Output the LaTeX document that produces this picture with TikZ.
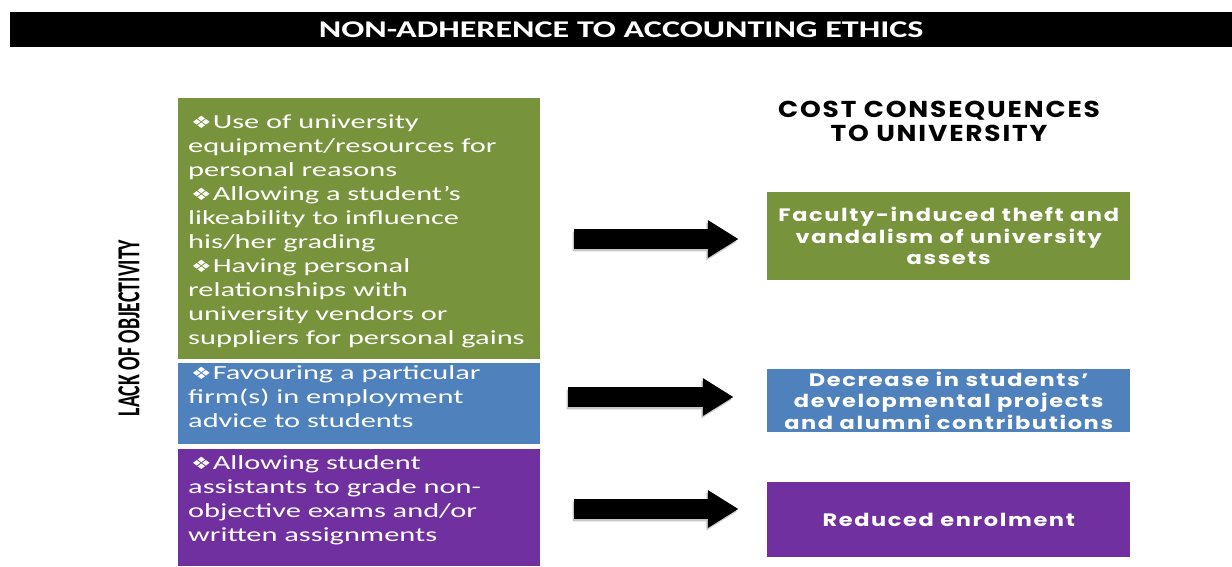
\documentclass[tikz,border=0pt]{standalone}
\usepackage{fontspec}
\usetikzlibrary{shapes.arrows,shadows}
\setmainfont{Carlito}
\newfontfamily\bodyfont[FakeStretch=1.52]{Carlito}
\newfontfamily\titlefont[FakeStretch=1.42]{Carlito}
\newfontfamily\sidefont[FakeStretch=0.62]{Carlito}
\newfontfamily\gothic[FakeStretch=1.25,LetterSpace=9]{Poppins}
\newfontfamily\headfont[FakeStretch=1.15,LetterSpace=8]{Poppins}
\newfontfamily\symfont[FakeStretch=1.35]{DejaVu Sans}

\definecolor{ogreen}{HTML}{77933C}
\definecolor{oblue}{HTML}{4F81BD}
\definecolor{opurple}{HTML}{7030A0}

\newcommand{\bul}{\kern3pt{\symfont\fontsize{17}{17}\selectfont ❖}\kern1pt}

\tikzset{
  causebox/.style={draw=none, minimum width=363, inner sep=0, anchor=north west},
  causetext/.style={text=white, align=left, inner sep=0, anchor=north west,
    font=\bodyfont\fontsize{20}{24}\selectfont},
  costbox/.style={minimum width=363, inner sep=0, text=white, align=center,
    font=\gothic\bfseries\fontsize{18}{21.5}\selectfont},
  blockarrow/.style={single arrow, fill=black, inner xsep=0, inner ysep=9.7,
    single arrow head extend=9, single arrow tip angle=64, anchor=tail,
    drop shadow={shadow xshift=-1.5pt, shadow yshift=-2.5pt, fill=black!22, opacity=1}},
}

\begin{document}
\begin{tikzpicture}[x=1pt, y=-1pt]
\useasboundingbox (0,0) rectangle (1232,566);
\fill[white] (0,0) rectangle (1232,566);

% title bar
\node[fill=black, minimum width=1222, minimum height=35, inner sep=0, anchor=north west,
  text=white, font=\titlefont\bfseries\fontsize{24}{24}\selectfont] (title) at (10,12)
  {NON-ADHERENCE TO ACCOUNTING ETHICS};

% side label
\node[rotate=90, font=\sidefont\bfseries\fontsize{32}{32}\selectfont, inner sep=0] (side)
  at (129,328) {LACK OF OBJECTIVITY};

% left-hand cause boxes
\fill[ogreen]  (178,98)  rectangle (540,359);
\fill[oblue]   (178,363) rectangle (540,444);
\fill[opurple] (178,449) rectangle (540,566);
\node[causebox, minimum height=261] (c1) at (178,98) {};
\node[causebox, minimum height=81]  (c2) at (178,363) {};
\node[causebox, minimum height=117] (c3) at (178,449) {};

\node[causetext] (t1) at (188,115) {\bul Use of university\\
  equipment/resources for\\ personal reasons\\
  \bul Allowing a student’s\\ likeability to influence\\ his/her grading\\
  \bul Having personal\\ relationships with\\ university vendors or\\
  suppliers for personal gains};
\node[causetext] (t2) at (188,365) {\bul Favouring a particular\\
  firm(s) in employment\\ advice to students};
\node[causetext] (t3) at (188,455) {\bul Allowing student\\
  assistants to grade non-\\ objective exams and/or\\ written assignments};

% heading of the right column
\node[font=\headfont\bfseries\fontsize{23}{24}\selectfont, align=center, inner sep=0]
  (head) at (939,121) {COST CONSEQUENCES\\TO UNIVERSITY};

% right-hand cost boxes
\node[costbox, fill=ogreen, minimum height=88, anchor=north west] (k1) at (767,192)
  {Faculty-induced theft and\\vandalism of university\\assets};
\node[costbox, fill=oblue, minimum height=63, anchor=north west] (k2) at (767,369)
  {Decrease in students’\\developmental projects\\and alumni contributions};
\node[costbox, fill=opurple, minimum height=75, anchor=north west] (k3) at (767,482)
  {Reduced enrolment};

% block arrows
\node[blockarrow, minimum height=164] (a1) at (574,239) {};
\node[blockarrow, minimum height=165] (a2) at (568,397) {};
\node[blockarrow, minimum height=164] (a3) at (574,509) {};
\end{tikzpicture}
\end{document}
